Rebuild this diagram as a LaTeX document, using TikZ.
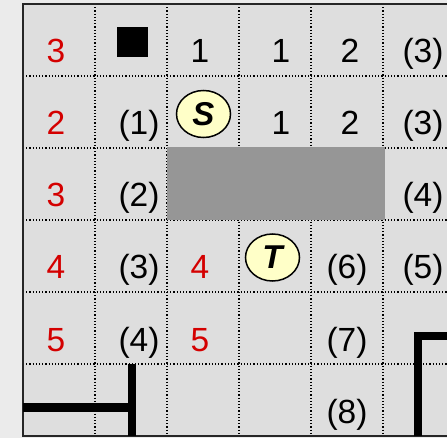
\documentclass[tikz,border=0pt]{standalone}
\usepackage{fontspec}
\setmainfont{Liberation Sans}
\usetikzlibrary{shapes.geometric}
\definecolor{outerbg}{HTML}{EBEBEB}
\definecolor{cellbg}{HTML}{DEDEDE}
\definecolor{wallgray}{HTML}{969696}
\definecolor{numred}{HTML}{D40000}
\definecolor{tokfill}{HTML}{FFFFC8}
\tikzset{
  grid line/.style={black, line width=1.2pt, dash pattern=on 1.2pt off 2pt},
  wall/.style={line width=8.5pt},
  lbl/.style={anchor=base, inner sep=0pt, font=\fontsize{33.5}{36}\selectfont},
  red lbl/.style={lbl, text=numred},
  token/.style={ellipse, draw, line width=1.5pt, fill=tokfill, minimum width=54pt,
    minimum height=47pt, inner sep=0pt, font=\fontsize{33}{36}\selectfont\bfseries\itshape},
}
\begin{document}
\begin{tikzpicture}[x=1pt,y=-1pt]
\useasboundingbox (0,0) rectangle (447,438);
\fill[outerbg] (0,0) rectangle (447,438);
\fill[cellbg] (23,4) rectangle (447,436);
\foreach \yy in {76,148,220,292,364} \draw[grid line] (23,\yy) -- (447,\yy);
\foreach \xx in {95,167,239,311,383} \draw[grid line] (\xx,4) -- (\xx,436);
\fill[wallgray] (167,147.5) rectangle (385,220);
\draw[line width=2pt, black!85] (447,4) -- (23,4) -- (23,436) -- (447,436);
% walls
\draw[wall] (23,407.5) -- (136,407.5);
\draw[wall] (132,364) -- (132,436);
\draw[wall, miter limit=10] (418,436) -- (418,336) -- (447,336);
% goal square
\fill (117,27) rectangle (148,57);
% tokens
\node[token] (S) at (203.5,114) {S};
\node[token] (T) at (272.5,257.5) {T};
% column 0 (red)
\node[red lbl] (r0c0) at (56,63) {3};
\node[red lbl] (r1c0) at (56,135) {2};
\node[red lbl] (r2c0) at (56,207) {3};
\node[red lbl] (r3c0) at (56,279) {4};
\node[red lbl] (r4c0) at (56,351) {5};
% column 1
\node[lbl] (r1c1) at (139,135) {(1)};
\node[lbl] (r2c1) at (139,207) {(2)};
\node[lbl] (r3c1) at (139,279) {(3)};
\node[lbl] (r4c1) at (139,351) {(4)};
% column 2
\node[lbl] (r0c2) at (200,63) {1};
\node[red lbl] (r3c2) at (200,279) {4};
\node[red lbl] (r4c2) at (200,351) {5};
% column 3
\node[lbl] (r0c3) at (281,63) {1};
\node[lbl] (r1c3) at (281,135) {1};
% column 4
\node[lbl] (r0c4) at (350,63) {2};
\node[lbl] (r1c4) at (350,135) {2};
\node[lbl] (r3c4) at (347,279) {(6)};
\node[lbl] (r4c4) at (347,351) {(7)};
\node[lbl] (r5c4) at (347,423) {(8)};
% column 5
\node[lbl] (r0c5) at (423,63) {(3)};
\node[lbl] (r1c5) at (423,135) {(3)};
\node[lbl] (r2c5) at (423,207) {(4)};
\node[lbl] (r3c5) at (423,279) {(5)};
\end{tikzpicture}
\end{document}
